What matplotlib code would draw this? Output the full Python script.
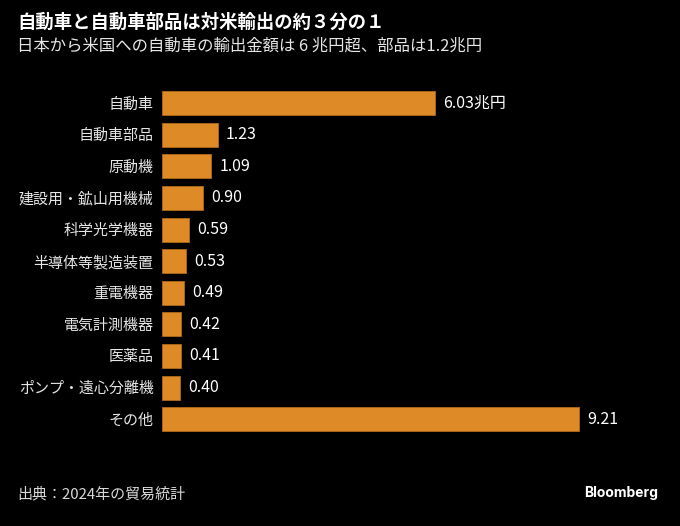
import matplotlib
matplotlib.use('Agg')
import matplotlib.pyplot as plt

plt.rcParams['font.family'] = ['Noto Sans CJK JP', 'DejaVu Sans']

categories = ['自動車', '自動車部品', '原動機', '建設用・鉱山用機械', '科学光学機器',
              '半導体等製造装置', '重電機器', '電気計測機器', '医薬品',
              'ポンプ・遠心分離機', 'その他']
values = [6.03, 1.23, 1.09, 0.90, 0.59, 0.53, 0.49, 0.42, 0.41, 0.40, 9.21]
value_labels = ['6.03兆円', '1.23', '1.09', '0.90', '0.59', '0.53', '0.49',
                '0.42', '0.41', '0.40', '9.21']

bg = 'black'
bar_color = '#DE8A26'

fig = plt.figure(figsize=(6.8, 5.26), dpi=100, facecolor=bg)
ax = fig.add_axes([162/680, 0.173, 0.666, 0.661], facecolor=bg)

y = list(range(len(categories)))
ax.barh(y, values, height=0.76, color=bar_color, edgecolor='#b06a18', linewidth=0.6)
for yi, v, lab in zip(y, values, value_labels):
    ax.annotate(lab, (v, yi), xytext=(6, 0), textcoords='offset points',
                va='center', ha='left', color='white', fontsize=11.5)

ax.set_xlim(0, 10)
ax.set_ylim(len(categories) - 0.5, -0.5)
ax.set_yticks(y)
ax.set_yticklabels(categories, color='#e6e6e6', fontsize=10.8)
ax.tick_params(axis='y', length=0, pad=6)
ax.set_xticks([])
for s in ax.spines.values():
    s.set_visible(False)

fig.text(17/680, 1 - 22/526, '自動車と自動車部品は対米輸出の約３分の１', color='white',
         fontsize=13.2, fontweight='bold', va='center', ha='left')
fig.text(17/680, 1 - 46/526, '日本から米国への自動車の輸出金額は 6 兆円超、部品は1.2兆円',
         color='#e6e6e6', fontsize=11.8, va='center', ha='left')
fig.text(17/680, 1 - 494/526, '出典：2024年の貿易統計', color='#d9d9d9',
         fontsize=10.8, va='center', ha='left')
fig.text(658/680, 1 - 493/526, 'Bloomberg', color='white', fontsize=10,
         fontweight='bold', va='center', ha='right', family=['Inter', 'DejaVu Sans'])

fig.savefig('out.png', dpi=100, facecolor=bg)
